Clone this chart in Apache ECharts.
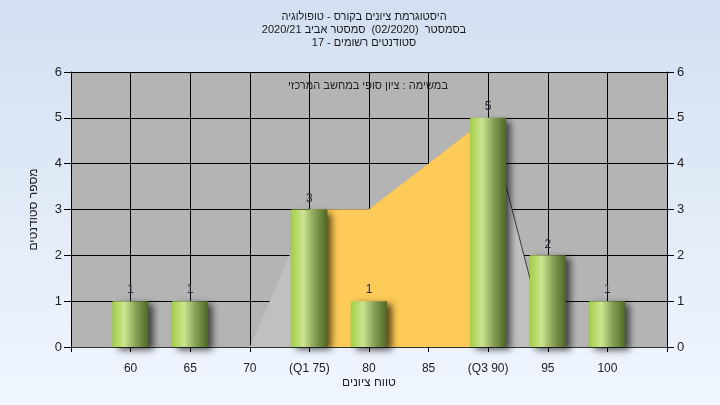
<!DOCTYPE html>
<html>
<head>
<meta charset="utf-8">
<script src="https://cdn.jsdelivr.net/npm/echarts@6/dist/echarts.min.js"></script>
<style>
html,body{margin:0;padding:0;}
#chart{width:720px;height:405px;}
</style>
</head>
<body>
<div id="chart"></div>
<script>
// ---- data ----
const titleLines = ['היסטוגרמת ציונים בקורס - טופולוגיה', 'בסמסטר  (02/2020)  סמסטר אביב 2020/21', 'סטודנטים רשומים - 17'];
const noteText = 'במשימה : ציון סופי במחשב המרכזי';
const xAxisName = 'טווח ציונים';
const yAxisName = 'מספר סטודנטים';
const categories = ['', '60', '65', '70', '(Q1 75)', '80', '85', '(Q3 90)', '95', '100', ''];
const counts = [null, 1, 1, 0, 3, 1, 0, 5, 2, 1, null];
const rangeArea = [null, null, null, 0, 3, 3, 4, 5, 0, null, null];
const tailLine = [null, null, null, null, null, null, null, 5, 0, null, null];
const iqrArea = [null, null, null, null, 3, 3, 4, 5, null, null, null];
const yTicks = [0, 1, 2, 3, 4, 5, 6];

const FONT = "'Liberation Sans', Arial, sans-serif";
const chart = echarts.init(document.getElementById('chart'));

const barGrad = new echarts.graphic.LinearGradient(0, 0, 1, 0, [
  {offset: 0, color: '#a2cf45'},
  {offset: 0.33, color: '#cbe591'},
  {offset: 0.65, color: '#869f55'},
  {offset: 1, color: '#4d6824'}
]);

const yAxisCommon = {
  type: 'value', min: yTicks[0], max: yTicks[yTicks.length - 1], interval: 1,
  axisLine: {show: true, lineStyle: {color: '#000', width: 1}},
  axisTick: {show: true, length: 7, lineStyle: {color: '#000'}},
  axisLabel: {color: '#222', fontSize: 13, fontFamily: FONT}
};

chart.setOption({
  backgroundColor: new echarts.graphic.LinearGradient(0, 0, 0, 1, [
    {offset: 0, color: '#d3dff0'},
    {offset: 1, color: '#f0f6fe'}
  ]),
  animation: false,
  graphic: [
    {type: 'text', x: 364, y: 11, style: {text: titleLines.join('\n'), align: 'center', verticalAlign: 'top', lineHeight: 12.7, fontSize: 11, fontFamily: FONT, fill: '#1a1a1a'}},
    {type: 'text', x: 368, y: 86, z: 100, style: {text: noteText, align: 'center', verticalAlign: 'middle', fontSize: 11, fontFamily: FONT, fill: '#222'}}
  ],
  grid: {left: 71, right: 53, top: 72, bottom: 58, show: true, backgroundColor: '#b4b4b4', borderWidth: 0},
  xAxis: {
    type: 'category', data: categories, boundaryGap: false,
    name: xAxisName, nameLocation: 'middle', nameGap: 30, nameMoveOverlap: false,
    nameTextStyle: {color: '#222', fontSize: 12, fontFamily: FONT},
    axisLine: {show: true, lineStyle: {color: '#333', width: 1}},
    axisTick: {show: true, length: 5, lineStyle: {color: '#000'}},
    axisLabel: {interval: 0, color: '#222', fontSize: 12, fontFamily: FONT, margin: 16},
    splitLine: {show: true, interval: 0, lineStyle: {color: '#000', width: 1}}
  },
  yAxis: [
    Object.assign({}, yAxisCommon, {
      position: 'left',
      name: yAxisName, nameLocation: 'middle', nameGap: 31, nameMoveOverlap: false,
      nameTextStyle: {color: '#222', fontSize: 12, fontFamily: FONT},
      axisLabel: Object.assign({}, yAxisCommon.axisLabel, {margin: 9}),
      splitLine: {show: true, lineStyle: {color: '#000', width: 1}}
    }),
    Object.assign({}, yAxisCommon, {
      position: 'right',
      axisLabel: Object.assign({}, yAxisCommon.axisLabel, {margin: 10}),
      splitLine: {show: false}
    })
  ],
  series: [
    {type: 'line', z: 1, data: rangeArea, symbol: 'none', lineStyle: {width: 0}, areaStyle: {color: '#c0c0c0', opacity: 1}, silent: true},
    {type: 'line', z: 1, data: tailLine, symbol: 'none', lineStyle: {width: 1, color: '#3a3a3a'}, silent: true},
    {type: 'line', z: 1, data: iqrArea, symbol: 'none', lineStyle: {width: 0}, areaStyle: {color: '#fecb58', opacity: 1}, silent: true},
    {
      type: 'bar', z: 5, data: counts, barWidth: 36,
      itemStyle: {color: barGrad, shadowBlur: 7, shadowColor: 'rgba(0,0,0,0.65)', shadowOffsetX: 5, shadowOffsetY: 3},
      label: {show: true, position: 'top', distance: 5, color: '#2a2a3a', fontSize: 12, fontFamily: FONT,
        formatter: p => (p.value ? String(p.value) : '')}
    }
  ]
});
</script>
</body>
</html>
